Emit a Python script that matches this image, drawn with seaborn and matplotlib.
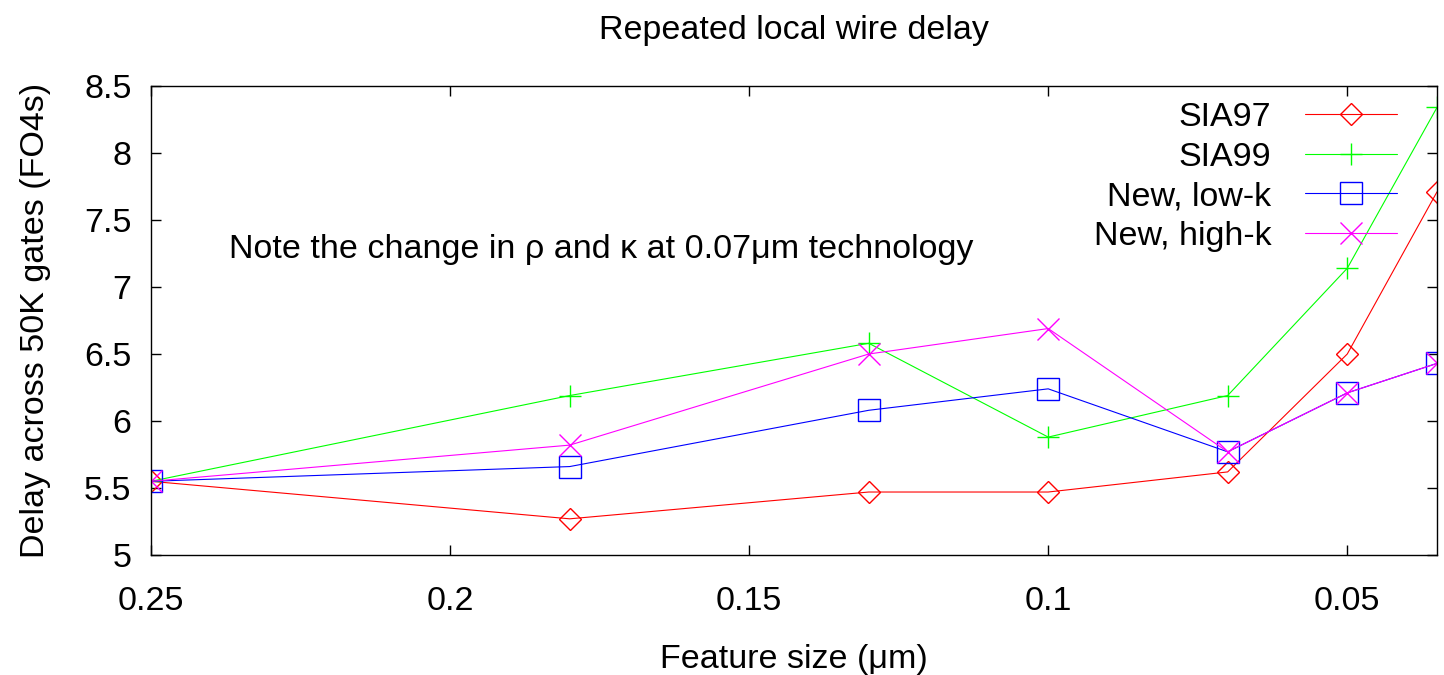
import matplotlib
matplotlib.use("Agg")
import matplotlib.pyplot as plt
import seaborn as sns
import pandas as pd
from matplotlib.ticker import FuncFormatter

feature_size = [0.25, 0.18, 0.13, 0.10, 0.07, 0.05, 0.035]
sia97 = [5.55, 5.27, 5.47, 5.47, 5.62, 6.50, 7.71]
sia99 = [5.55, 6.19, 6.58, 5.88, 6.19, 7.14, 8.34]
new_low_k = [5.55, 5.66, 6.08, 6.24, 5.77, 6.21, 6.43]
new_high_k = [5.55, 5.82, 6.50, 6.69, 5.77, 6.21, 6.43]

series_names = ["SIA97", "SIA99", "New, low-k", "New, high-k"]
series_values = [sia97, sia99, new_low_k, new_high_k]
colors = ["#ff0000", "#00ff00", "#0000ff", "#ff00ff"]
markers = ["D", "+", "s", "x"]
msizes = [11, 16, 16, 16]

x_ticks = [0.25, 0.2, 0.15, 0.1, 0.05]
y_ticks = [5, 5.5, 6, 6.5, 7, 7.5, 8, 8.5]

sns.set_style("ticks")
plt.rcParams["font.family"] = ["Liberation Sans", "DejaVu Sans"]
plt.rcParams["text.color"] = "black"
plt.rcParams["axes.labelcolor"] = "black"
plt.rcParams["xtick.color"] = "black"
plt.rcParams["ytick.color"] = "black"
plt.rcParams["axes.edgecolor"] = "black"
FS = 24.5

fig = plt.figure(figsize=(14.44, 6.75), dpi=100)
ax = fig.add_axes([151/1444, 1-555/675, (1437-151)/1444, (555-86)/675])

for name, vals, c, m, ms in zip(series_names, series_values, colors, markers, msizes):
    df = pd.DataFrame({"x": feature_size, "y": vals})
    sns.lineplot(data=df, x="x", y="y", ax=ax, color=c, marker=m, markersize=ms,
                 markerfacecolor="none", markeredgecolor=c, markeredgewidth=1.0,
                 linewidth=0.8, label=name, sort=False)

ax.set_xlim(0.25, 0.035)
ax.set_ylim(5, 8.5)
ax.set_xticks(x_ticks)
ax.set_yticks(y_ticks)
ax.xaxis.set_major_formatter(FuncFormatter(lambda v, p: f"{v:g}"))
ax.yaxis.set_major_formatter(FuncFormatter(lambda v, p: f"{v:g}"))
ax.tick_params(direction="in", length=7, width=1, top=True, right=True,
               labelsize=FS, color="black", labelcolor="black")
ax.tick_params(axis="x", pad=22)
ax.tick_params(axis="y", pad=14)
for s in ax.spines.values():
    s.set_linewidth(1)
    s.set_color("black")

ax.set_xlabel("Feature size (μm)", fontsize=FS, labelpad=20)
ax.set_ylabel("Delay across 50K gates (FO4s)", fontsize=FS, labelpad=24)
ax.set_title("Repeated local wire delay", fontsize=FS, pad=34)

ax.text(0.237, 7.28, "Note the change in ρ and κ at 0.07μm technology",
        fontsize=FS, ha="left", va="center")

leg = ax.legend(loc="upper right", bbox_to_anchor=(0.993, 1.031), frameon=False,
                markerfirst=False, fontsize=FS, handlelength=2.7,
                labelspacing=0.25, handletextpad=1.0)

fig.savefig("out.png", dpi=100)
